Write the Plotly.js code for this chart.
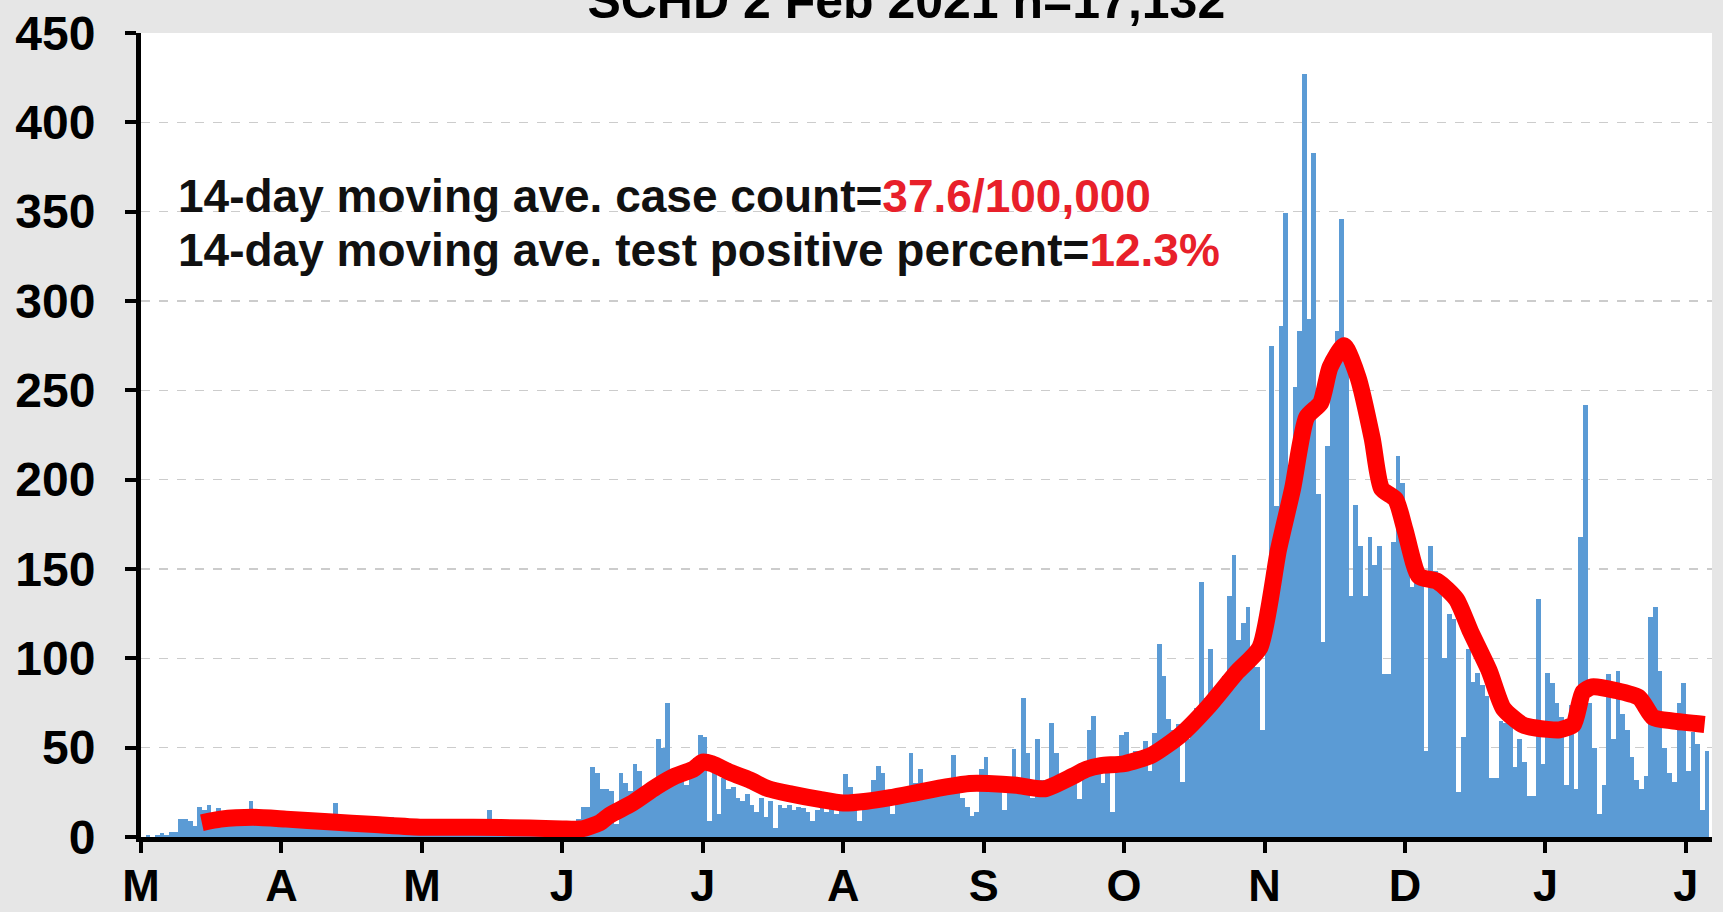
<!DOCTYPE html>
<html>
<head>
<meta charset="utf-8">
<script src="https://cdn.plot.ly/plotly-3.0.1.min.js"></script>
<style>
  html, body { margin: 0; padding: 0; background: #e6e6e6; }
  #chart { width: 1723px; height: 912px; }
</style>
</head>
<body>
<div id="chart"></div>
<script>
// Daily new cases, one value per day starting 7 Mar 2020
const firstDay = '2020-03-07 12:00';
const dailyCases = [
  0,1,0,1,2,1,3,3,10,10,
  9,6,17,15,18,7,16,9,10,8,
  11,9,12,20,10,9,11,8,12,10,
  9,11,8,10,9,7,10,8,9,11,
  8,19,8,9,7,8,10,7,8,6,
  9,7,8,11,6,5,7,6,5,6,
  4,6,5,7,5,6,4,5,6,5,
  7,5,4,6,15,5,4,6,5,4,
  6,5,4,5,6,4,5,4,3,5,
  5,6,8,10,17,17,39,36,27,27,
  26,7,36,30,26,41,37,25,28,32,
  55,50,75,36,38,40,29,40,44,57,
  56,9,36,13,33,27,28,22,20,24,
  18,14,22,11,20,5,18,16,18,15,
  17,16,14,9,15,17,14,16,13,18,
  35,28,20,9,22,24,32,40,36,25,
  13,22,24,26,47,30,38,28,30,27,
  28,30,27,46,32,22,17,12,14,38,
  45,30,28,28,15,25,49,28,78,47,
  22,55,32,26,64,47,30,32,35,30,
  21,38,60,68,40,30,42,14,44,57,
  59,46,48,44,54,37,58,108,90,66,
  60,63,31,55,65,72,143,78,105,80,
  85,90,135,158,110,120,129,100,95,60,
  140,275,185,286,349,202,252,283,427,290,
  383,192,109,219,260,283,346,278,135,186,
  163,135,168,152,163,91,91,165,213,198,
  160,140,147,143,48,163,149,147,100,125,
  122,25,56,105,87,92,85,79,33,33,
  65,64,70,39,55,42,23,23,133,41,
  92,86,75,67,29,74,27,168,242,75,
  50,13,29,91,55,93,69,60,45,32,
  27,34,123,129,93,50,36,31,75,86,
  37,59,52,15,48
];

// 14-day moving average
const maDates = [
  '2020-03-20','2020-03-24','2020-03-31','2020-04-07','2020-04-16','2020-04-26',
  '2020-05-06','2020-05-17','2020-05-29','2020-06-05','2020-06-09','2020-06-13',
  '2020-06-15','2020-06-20','2020-06-25','2020-06-29','2020-07-03','2020-07-05',
  '2020-07-07','2020-07-11','2020-07-15','2020-07-19','2020-07-24','2020-07-30',
  '2020-08-04','2020-08-09','2020-08-14','2020-08-20','2020-08-26','2020-08-31',
  '2020-09-04','2020-09-10','2020-09-16','2020-09-22','2020-09-25','2020-09-28',
  '2020-10-03','2020-10-09','2020-10-15','2020-10-21','2020-10-27','2020-11-01',
  '2020-11-05','2020-11-08','2020-11-11','2020-11-14','2020-11-16','2020-11-19',
  '2020-11-22','2020-11-25','2020-11-27','2020-11-30','2020-12-02','2020-12-05',
  '2020-12-09','2020-12-13','2020-12-16','2020-12-20','2020-12-23','2020-12-27',
  '2020-12-30','2021-01-04','2021-01-07','2021-01-09','2021-01-11','2021-01-16',
  '2021-01-21','2021-01-24','2021-01-28','2021-02-04'
];
const maValues = [
  8,10,11,10,8.5,7,
  5.5,5.5,5,4.5,4.5,8,
  12,19,28,34,38,42,
  41,36,32,27,24,21,
  19,20,22,25,28,30,
  30,29,27,34,38,40,
  41,46,57,73,92,106,
  161,195,235,243,263,275,
  257,223,195,189,172,146,
  143,133,115,93,72,63,
  61,60,63,81,84,82,
  78,67,65,63
];

// Axis ticks (every 30 days) and their one-letter month labels
const tickDates = ['2020-03-07','2020-04-06','2020-05-06','2020-06-05','2020-07-05','2020-08-04',
                   '2020-09-03','2020-10-03','2020-11-02','2020-12-02','2021-01-01','2021-01-31'];
const tickLabels = ['M','A','M','J','J','A','S','O','N','D','J','J'];

const titleText = 'SCHD 2 Feb 2021 n=17,132';
const noteLine1 = ['14-day moving ave. case count=', '37.6/100,000'];
const noteLine2 = ['14-day moving ave. test positive percent=', '12.3%'];

const FONT = 'Liberation Sans, Arial, Helvetica, sans-serif';
const RED_TEXT = '#e8202a';

const traces = [
  {
    type: 'bar',
    x0: firstDay,
    dx: 86400000,
    y: dailyCases,
    marker: { color: '#5b9bd5', line: { width: 0 } },
    hoverinfo: 'skip'
  },
  {
    type: 'scatter',
    mode: 'lines',
    x: maDates,
    y: maValues,
    line: { color: '#ff0000', width: 17, shape: 'spline', smoothing: 0.6 },
    hoverinfo: 'skip'
  }
];

const tickFont = { family: FONT, size: 48, color: '#000', weight: 700 };

const layout = {
  width: 1723,
  height: 912,
  paper_bgcolor: '#e6e6e6',
  plot_bgcolor: '#ffffff',
  margin: { l: 141, r: 11, t: 33, b: 75 },
  bargap: 0,
  showlegend: false,
  title: {
    text: titleText,
    font: { family: FONT, size: 50, color: '#000', weight: 700 },
    x: 0.526, xanchor: 'center',
    y: 0.999, yanchor: 'middle'
  },
  xaxis: {
    type: 'date',
    range: ['2020-03-07', '2021-02-05 14:00'],
    tickmode: 'array',
    tickvals: tickDates,
    ticktext: tickLabels,
    ticks: 'outside', ticklen: 11, tickwidth: 4, tickcolor: '#000',
    showline: true, linecolor: '#000', linewidth: 5,
    showgrid: false, zeroline: false,
    tickfont: { family: FONT, size: 45, color: '#000', weight: 700 },
    ticklabelstandoff: -6
  },
  yaxis: {
    range: [0, 450],
    tick0: 0, dtick: 50,
    ticks: 'outside', ticklen: 11, tickwidth: 4, tickcolor: '#000',
    showline: true, linecolor: '#000', linewidth: 5,
    showgrid: true, gridcolor: '#cccccc', griddash: 'dash', gridwidth: 1.5,
    zeroline: false,
    tickfont: tickFont,
    ticklabelstandoff: 20
  },
  annotations: [
    {
      xref: 'paper', yref: 'paper', x: 0.0223, y: 0.797,
      xanchor: 'left', yanchor: 'middle', showarrow: false,
      text: noteLine1[0] + '<span style="color:' + RED_TEXT + '">' + noteLine1[1] + '</span>',
      font: { family: FONT, size: 46, color: '#111', weight: 700 }
    },
    {
      xref: 'paper', yref: 'paper', x: 0.0223, y: 0.730,
      xanchor: 'left', yanchor: 'middle', showarrow: false,
      text: noteLine2[0] + '<span style="color:' + RED_TEXT + '">' + noteLine2[1] + '</span>',
      font: { family: FONT, size: 46, color: '#111', weight: 700 }
    }
  ]
};

Plotly.newPlot('chart', traces, layout, { staticPlot: true, displayModeBar: false });
</script>
</body>
</html>
